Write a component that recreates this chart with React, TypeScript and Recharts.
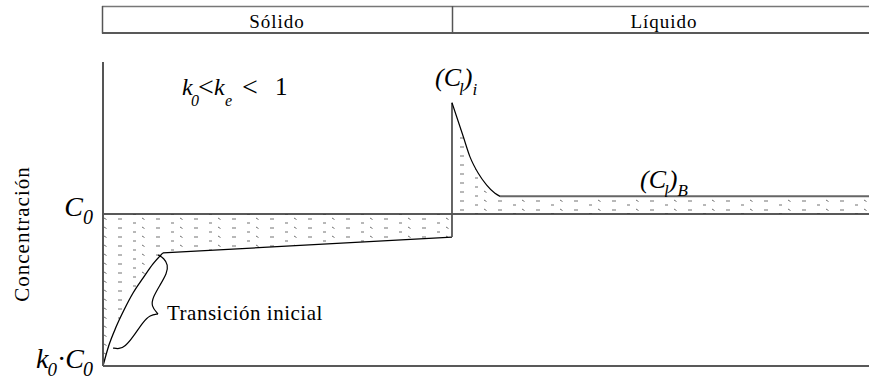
import React from "react";
import { ComposedChart, Line, Area, XAxis, YAxis, ReferenceLine } from "recharts";

// x: distance along the bar (0..100, solid/liquid interface at 45.56)
// c: concentration, scaled so that k0·C0 = 0 and C0 = 50
const interfaceX = 45.56;
const c0 = 50;

const solidX = [0, 0.78, 1.7, 2.74, 3.92, 5.22, 6.53, 7.83];
const solidC = [0, 6.9, 12.8, 18.4, 24.0, 28.9, 33.6, 37.2];
const solidEndC = 42.4;

const liquidX = [45.56, 46.17, 47.04, 47.91, 48.99, 50.09, 51.17, 51.83];
const liquidC = [86.6, 82.0, 75.4, 68.8, 63.4, 59.5, 56.8, 55.8];
const bulkC = 55.8;

// curly brace marking the initial transient
const braceUpperX = [7.18, 7.96, 8.49, 8.36, 7.44, 6.53, 6.27, 7.18];
const braceUpperC = [36.5, 35.5, 33.2, 30.6, 26.6, 22.7, 19.7, 17.1];
const braceLowerX = [7.18, 6.14, 5.22, 3.92, 2.87, 2.09, 1.31];
const braceLowerC = [17.1, 16.8, 14.5, 9.5, 6.3, 5.6, 5.9];

const yTicks = [0, c0];
const phases = ["Sólido", "Líquido"];

const zip = (xs: number[], cs: number[]) => xs.map((x, i) => ({ x, c: cs[i] }));

const solidCurve = zip(solidX, solidC);
const solidPlateau = [solidCurve[solidCurve.length - 1], { x: interfaceX, c: solidEndC }];
const interfaceStep = [{ x: interfaceX, c: solidEndC }, { x: interfaceX, c: liquidC[0] }];
const liquidCurve = zip(liquidX, liquidC);
const bulkLine = [liquidCurve[liquidCurve.length - 1], { x: 100, c: bulkC }];
const braceUpper = zip(braceUpperX, braceUpperC);
const braceLower = zip(braceLowerX, braceLowerC);

const solidBand = [...solidCurve, { x: interfaceX, c: solidEndC }].map((p) => ({ x: p.x, band: [p.c, c0] }));
const liquidBand = [...liquidCurve, { x: 100, c: bulkC }].map((p) => ({ x: p.x, band: [c0, p.c] }));

const serif = "Liberation Serif";
const font = { fontFamily: serif };

function ConcTick(props: any) {
  const { x, y, payload } = props;
  const tx = x - 10;
  if (payload.value === c0) {
    return (
      <text x={tx} y={y + 2} textAnchor="end" fontFamily={serif} style={font} fontStyle="italic" fontSize={28} fill="#000">
        <tspan>C</tspan>
        <tspan fontSize={20} dy={8}>0</tspan>
      </text>
    );
  }
  return (
    <text x={tx} y={y + 2} textAnchor="end" fontFamily={serif} style={font} fontStyle="italic" fontSize={28} fill="#000">
      <tspan>k</tspan>
      <tspan fontSize={19} dy={8} dx={-1}>0</tspan>
      <tspan fontStyle="normal" dy={-8}>·</tspan>
      <tspan dx={-1}>C</tspan>
      <tspan fontSize={20} dy={8} dx={-1}>0</tspan>
    </text>
  );
}

const noDot = { dot: false, activeDot: false, isAnimationActive: false } as const;

export default function App() {
  return (
    <div style={{ position: "absolute", left: 0, top: 0, width: 869, height: 379, background: "#fff" }}>
      <ComposedChart width={869} height={379} margin={{ top: 62, right: 0, bottom: 0, left: 0 }}>
        <defs>
          <pattern id="speckle" width="38" height="9" patternUnits="userSpaceOnUse">
            <path d="M4 3h4M19 7h3M28 2l2.5 1.5" stroke="#111" strokeWidth="1" fill="none" />
          </pattern>
        </defs>
        <XAxis dataKey="x" type="number" domain={[0, 100]} height={13} tick={false} tickLine={false}
          axisLine={{ stroke: "#222", strokeWidth: 1.6 }} />
        <YAxis type="number" domain={[0, 100]} width={103} ticks={yTicks} interval={0} tickSize={0} tickMargin={0}
          tickLine={false} tick={<ConcTick />} axisLine={{ stroke: "#555", strokeWidth: 2 }} />
        <Area data={solidBand} dataKey="band" type="linear" stroke="none" fill="url(#speckle)" isAnimationActive={false} />
        <Area data={liquidBand} dataKey="band" type="monotone" stroke="none" fill="url(#speckle)" isAnimationActive={false} />
        <ReferenceLine y={c0} stroke="#222" strokeWidth={1.4} />
        <Line data={solidCurve} dataKey="c" type="monotone" stroke="#000" strokeWidth={1.3} {...noDot} />
        <Line data={solidPlateau} dataKey="c" type="linear" stroke="#000" strokeWidth={1.3} {...noDot} />
        <Line data={interfaceStep} dataKey="c" type="linear" stroke="#555" strokeWidth={1.8} {...noDot} />
        <Line data={liquidCurve} dataKey="c" type="monotone" stroke="#000" strokeWidth={1.2} {...noDot} />
        <Line data={bulkLine} dataKey="c" type="linear" stroke="#666" strokeWidth={2} {...noDot} />
        <Line data={braceUpper} dataKey="c" type="basis" stroke="#000" strokeWidth={1.2} {...noDot} />
        <Line data={braceLower} dataKey="c" type="basis" stroke="#000" strokeWidth={1.2} {...noDot} />
      </ComposedChart>

      <svg width={869} height={379} style={{ position: "absolute", left: 0, top: 0, pointerEvents: "none" }}>
        {/* phase header */}
        <line x1={102} y1={6.5} x2={869} y2={6.5} stroke="#777" strokeWidth={1.4} />
        <line x1={102} y1={33} x2={869} y2={33} stroke="#222" strokeWidth={1.5} />
        <line x1={102.5} y1={6} x2={102.5} y2={33.5} stroke="#555" strokeWidth={1.5} />
        <line x1={452.5} y1={6} x2={452.5} y2={33.5} stroke="#555" strokeWidth={1.5} />
        <text x={277} y={28} textAnchor="middle" fontFamily={serif} style={font} fontSize={19} letterSpacing={1}>{phases[0]}</text>
        <text x={664} y={28} textAnchor="middle" fontFamily={serif} style={font} fontSize={19} letterSpacing={1}>{phases[1]}</text>

        <text transform="translate(29,234) rotate(-90)" textAnchor="middle" fontFamily={serif} style={font} fontSize={21} letterSpacing={1}>
          Concentración
        </text>

        <text fontFamily={serif} style={font} fontStyle="italic" fontSize={24}>
          <tspan x={182} y={95}>k</tspan>
          <tspan x={191} y={106} fontSize={16}>0</tspan>
          <tspan x={198} y={96} fontStyle="normal" fontSize={28}>&lt;</tspan>
          <tspan x={214} y={95}>k</tspan>
          <tspan x={225} y={106} fontSize={16}>e</tspan>
          <tspan x={242} y={96} fontStyle="normal" fontSize={28}>&lt;</tspan>
          <tspan x={275} y={95} fontStyle="normal" fontSize={25}>1</tspan>
        </text>

        <text fontFamily={serif} style={font} fontStyle="italic" fontSize={26} x={435} y={86}>
          <tspan>(</tspan>
          <tspan>C</tspan>
          <tspan fontSize={17} dy={9} dx={-2}>l</tspan>
          <tspan dy={-9}>)</tspan>
          <tspan fontSize={17} dy={9}>i</tspan>
        </text>

        <text fontFamily={serif} style={font} fontStyle="italic" fontSize={26} x={640} y={188}>
          <tspan>(</tspan>
          <tspan>C</tspan>
          <tspan fontSize={17} dy={9} dx={-2}>l</tspan>
          <tspan dy={-9}>)</tspan>
          <tspan fontSize={17} dy={8}>B</tspan>
        </text>

        <text x={167} y={320} fontFamily={serif} style={font} fontSize={21} letterSpacing={0.5}>Transición inicial</text>
      </svg>
    </div>
  );
}
